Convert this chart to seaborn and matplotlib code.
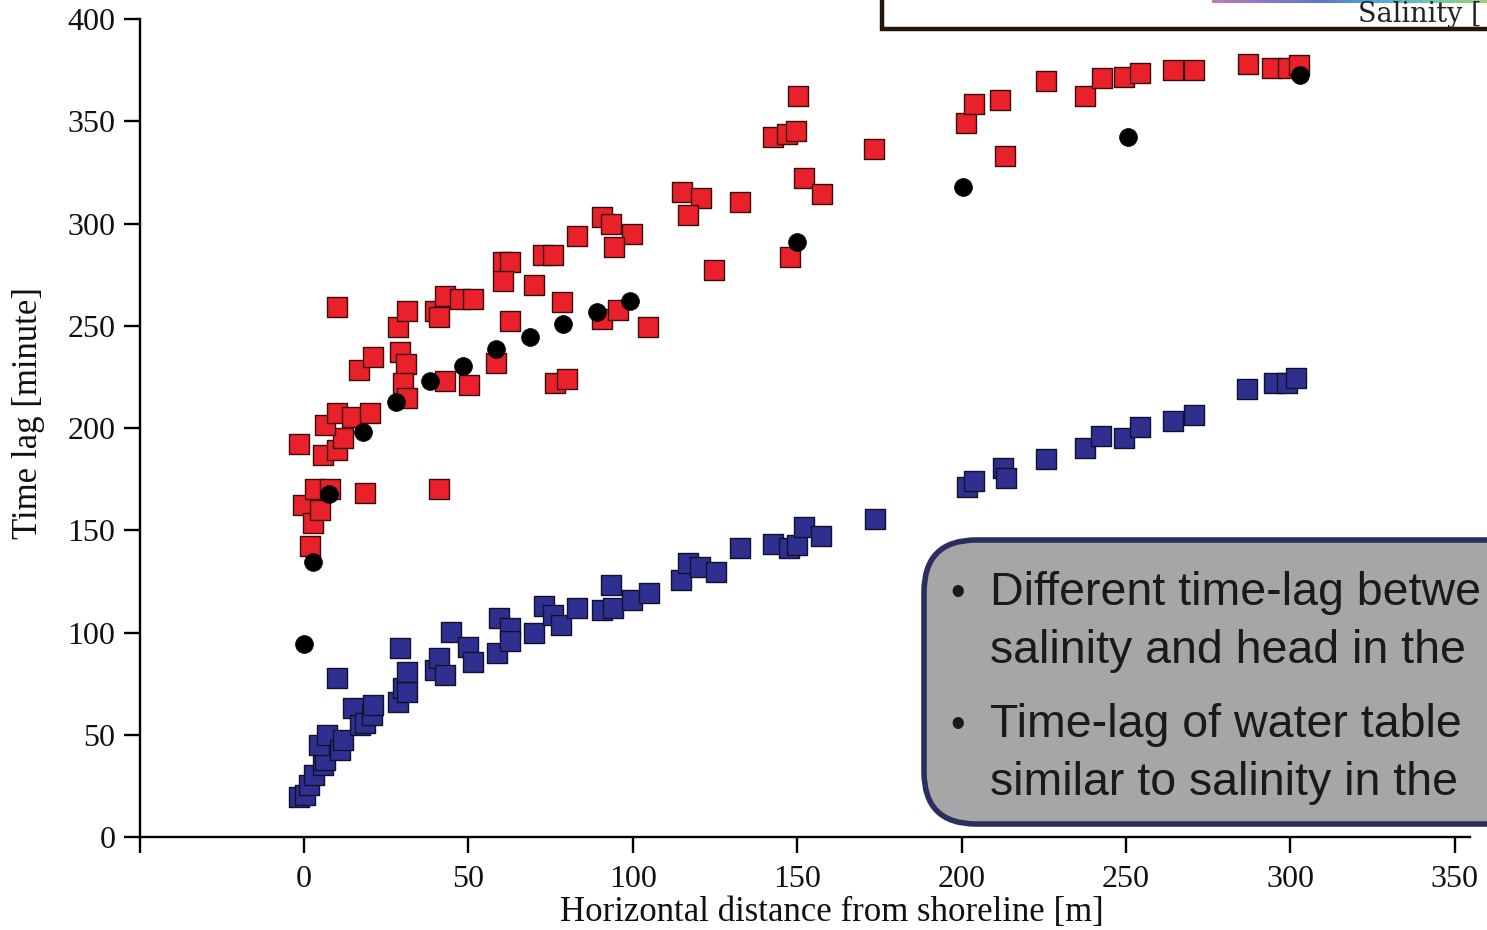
import numpy as np
import pandas as pd
import matplotlib
matplotlib.use("Agg")
import matplotlib.pyplot as plt
from matplotlib.patches import Rectangle, FancyBboxPatch
from matplotlib.colors import LinearSegmentedColormap
import seaborn as sns

# ---------------- data ----------------
salinity_x = [-1.5, -0.4, 1.8, 2.8, 3.3, 4.9, 7.9, 5.7, 10.1, 11.9, 6.4, 10.1, 14.5, 20.0,
              18.5, 16.8, 21.0, 9.9, 28.7, 29.2, 30.9, 30.0, 31.4, 31.4, 39.8, 41.0, 42.9,
              47.4, 51.5, 42.9, 50.2, 41.1, 58.4, 60.6, 62.6, 60.6, 62.6, 69.9, 72.7, 75.8,
              78.5, 76.3, 80.0, 82.9, 90.5, 93.5, 99.6, 94.2, 90.5, 95.5, 104.7, 115.0,
              120.6, 116.9, 124.7, 132.5, 142.7, 146.8, 149.5, 150.2, 147.8, 152.2, 157.6,
              173.4, 201.4, 203.7, 211.8, 213.2, 225.8, 237.6, 242.7, 249.5, 254.2, 264.4,
              270.8, 287.0, 294.5, 299.3, 302.7]
salinity_y = [192.2, 162.3, 142.3, 153.4, 170.0, 159.9, 170.0, 186.8, 189.2, 194.9, 201.5,
              207.1, 205.5, 207.4, 168.1, 228.4, 234.8, 259.3, 249.2, 237.3, 231.3, 222.2,
              214.8, 257.4, 257.4, 254.4, 264.7, 263.0, 263.0, 223.1, 221.0, 170.0, 231.6,
              281.3, 281.3, 272.0, 252.3, 270.0, 284.6, 284.6, 261.8, 222.2, 224.2, 293.9,
              303.3, 300.0, 295.1, 288.7, 253.1, 257.7, 249.2, 315.6, 312.6, 304.2, 277.1,
              310.3, 342.4, 343.8, 345.4, 362.3, 283.4, 322.1, 314.4, 336.4, 349.0, 358.4,
              360.4, 333.2, 369.7, 362.3, 371.0, 371.8, 373.7, 375.0, 375.0, 378.0, 375.9,
              375.9, 377.5]

head_x = [-1.5, 0.3, 1.6, 3.1, 5.8, 6.4, 4.6, 6.9, 10.9, 11.9, 10.1, 14.8, 17.0, 18.5, 20.6,
          20.9, 29.2, 28.7, 30.2, 31.2, 31.2, 39.8, 41.1, 42.9, 44.6, 49.9, 51.5, 58.6, 59.3,
          62.6, 62.6, 69.9, 72.9, 75.8, 78.3, 82.9, 90.5, 93.5, 94.0, 99.6, 105.0, 114.8,
          116.8, 120.4, 125.4, 132.5, 142.5, 147.5, 150.0, 152.0, 157.2, 173.5, 201.5, 203.8,
          212.5, 213.4, 225.7, 237.4, 242.5, 249.3, 254.1, 264.3, 270.6, 286.9, 295.1, 298.9,
          301.6]
head_y = [19.4, 20.5, 25.4, 30.3, 35.0, 37.7, 45.0, 49.9, 42.5, 47.4, 77.6, 62.9, 54.8, 55.6,
          59.7, 64.5, 92.3, 66.2, 72.7, 71.0, 80.8, 81.7, 87.4, 79.2, 100.4, 93.0, 85.7, 89.8,
          106.9, 102.0, 96.0, 99.6, 113.0, 108.6, 103.7, 111.8, 111.0, 123.2, 111.8, 115.9,
          119.1, 125.7, 133.8, 131.8, 129.7, 141.2, 143.3, 141.2, 142.8, 151.7, 147.2, 155.5,
          171.3, 174.3, 180.6, 175.4, 184.7, 190.1, 196.2, 195.3, 200.3, 203.4, 206.4, 218.9,
          222.2, 222.2, 224.3]

wt_x = [0.0, 2.7, 7.6, 17.9, 28.0, 38.3, 48.3, 58.4, 68.7, 78.7, 89.0, 99.1, 149.8, 200.3,
        250.5, 303.0]
wt_y = [94.4, 134.5, 167.7, 198.0, 212.7, 223.0, 230.3, 238.6, 244.5, 250.9, 256.7, 262.0,
        291.0, 317.8, 342.3, 372.6]

x_ticks = [-50, 0, 50, 100, 150, 200, 250, 300, 350]
x_tick_labels = ["", "0", "50", "100", "150", "200", "250", "300", "350"]
y_ticks = [0, 50, 100, 150, 200, 250, 300, 350, 400]

# visible part of the callout text (the reference crops it at the right edge)
bullet_lines = [["Different time-lag betwe", "salinity and head in the"],
                ["Time-lag of water table", "similar to salinity in the"]]
inset_label = "Salinity ["

# ---------------- figure ----------------
sns.set_theme(style="ticks")
plt.rcParams["font.family"] = ["Liberation Serif", "DejaVu Serif"]

W, H = 1487, 930
fig = plt.figure(figsize=(W / 100, H / 100), dpi=100)
fig.patch.set_facecolor("white")

def px(x, y):
    return x / W, 1 - y / H

AX_L, AX_R, AX_T, AX_B = 139.6, 1470, 19, 837
ax = fig.add_axes([AX_L / W, (H - AX_B) / H, (AX_R - AX_L) / W, (AX_B - AX_T) / H])
ax.set_facecolor("white")

sal = pd.DataFrame({"x": salinity_x, "y": salinity_y})
hd = pd.DataFrame({"x": head_x, "y": head_y})
wt = pd.DataFrame({"x": wt_x, "y": wt_y})

sns.scatterplot(data=sal, x="x", y="y", marker="s", s=200, color="#e8212a",
                edgecolor="#3a0c0c", linewidth=1.0, ax=ax, zorder=3)
sns.scatterplot(data=hd, x="x", y="y", marker="s", s=200, color="#2e2f8e",
                edgecolor="#10112e", linewidth=1.0, ax=ax, zorder=3)
sns.scatterplot(data=wt, x="x", y="y", marker="o", s=165, color="black",
                edgecolor="black", linewidth=0.5, ax=ax, zorder=4)

ax.set_xlim(-50, 354.6)
ax.set_ylim(0, 400)
ax.set_xticks(x_ticks)
ax.set_xticklabels(x_tick_labels)
ax.set_yticks(y_ticks)
for s in ["top", "right"]:
    ax.spines[s].set_visible(False)
for s in ["left", "bottom"]:
    ax.spines[s].set_linewidth(1.7)
    ax.spines[s].set_color("black")
ax.tick_params(axis="both", direction="out", length=11.5, width=1.7, color="black",
               labelsize=23, labelcolor="#111111")
ax.tick_params(axis="x", pad=9)
ax.tick_params(axis="y", pad=6)

ax.set_xlabel("Horizontal distance from shoreline [m]", fontsize=25, color="#111111")
ax.xaxis.set_label_coords((832 - AX_L) / (AX_R - AX_L), -0.072)
ax.set_ylabel("Time lag [minute]", fontsize=25, color="#111111")
ax.yaxis.set_label_coords(-0.071, 0.518)

# ---------------- inset box at top right (cropped by the figure edge) ----------------
x0, y0 = px(882, 29)
box = Rectangle((x0, y0), 1.2, 0.2, transform=fig.transFigure, facecolor="white",
                edgecolor="#23160a", linewidth=3.2, zorder=5)
fig.add_artist(box)
cmap = LinearSegmentedColormap.from_list(
    "sal", ["#c07ab8", "#8a78c8", "#5a78c8", "#50a8d8", "#70c8b0", "#a0d070"])
gax = fig.add_axes([1212 / W, 1 - 3 / H, (W - 1212) / W, 3 / H], zorder=6)
gax.imshow(np.linspace(0, 1, 256)[None, :], aspect="auto", cmap=cmap)
gax.set_axis_off()
fig.text(1358 / W, 1 - 22 / H, inset_label, fontsize=19.5, color="#222222",
         family=["DejaVu Serif"], ha="left", va="baseline", zorder=7)

# ---------------- gray callout box (cropped by the figure edge) ----------------
bx0, by0 = px(924, 824)
bx1, by1 = px(1560, 540)
call = FancyBboxPatch((bx0, by0), bx1 - bx0, by1 - by0,
                      boxstyle="round,pad=0,rounding_size=0.035",
                      transform=fig.transFigure, mutation_aspect=W / H,
                      facecolor="#a6a6a6", edgecolor="#2c2e62", linewidth=4.0, zorder=5)
fig.add_artist(call)
baselines = [[605, 663], [737, 795]]
for grp, bl in zip(bullet_lines, baselines):
    fig.text(950 / W, 1 - bl[0] / H, "\u2022", fontsize=30, color="#1a1a1a",
             family=["Liberation Sans"], ha="left", va="baseline", zorder=7)
    for line, b in zip(grp, bl):
        fig.text(990 / W, 1 - b / H, line, fontsize=33.5, color="#1a1a1a",
                 family=["Liberation Sans"], ha="left", va="baseline", zorder=7)

fig.savefig("out.png", dpi=100)
